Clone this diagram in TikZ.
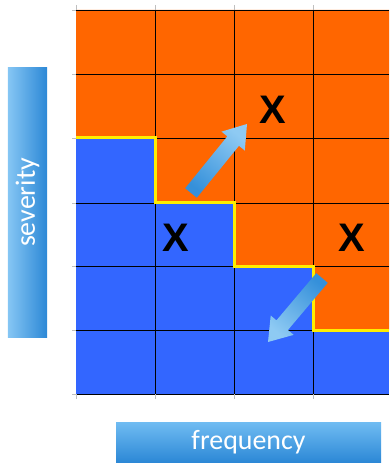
\documentclass[tikz,border=0pt]{standalone}
\usepackage{fontspec}
\setmainfont{Carlito}
\newfontfamily\xfont{Liberation Sans}
\usetikzlibrary{calc}
\definecolor{gridorange}{HTML}{FF6600}
\definecolor{gridblue}{HTML}{3366FF}
\definecolor{boundary}{HTML}{FFEE00}
\definecolor{lblight}{HTML}{70BCF2}
\definecolor{lbdark}{HTML}{2C88D6}
\definecolor{arrlight}{HTML}{8ECAF3}
\definecolor{arrdark}{HTML}{3590DA}
\tikzset{
  gridline/.style={black, line width=0.8bp},
  tickline/.style={gray!50, line width=0.6bp},
  stair/.style={boundary, line width=3bp, line join=miter},
  xmark/.style={font=\xfont\bfseries\fontsize{40}{40}\selectfont, text=black, inner sep=0pt},
  labelbox/.style={inner sep=0pt, text=white, font=\fontsize{28}{28}\selectfont},
  hshade/.style={top color=lblight, bottom color=lbdark},
  vshade/.style={left color=lblight!85!white, right color=lbdark},
}
\begin{document}
\begin{tikzpicture}[x=1bp,y=-1bp]
\useasboundingbox (0,0) rectangle (389,465);
% cells
\fill[gridblue] (76,10) rectangle (389,394);
\fill[gridorange] (76,10) -- (389,10) -- (389,330) -- (313,330) -- (313,266)
  -- (234,266) -- (234,203) -- (155,203) -- (155,138) -- (76,138) -- cycle;
% grid lines and ticks
\foreach \y in {10,74,138,203,266,330,394} {
  \draw[tickline] (72,\y) -- (76,\y);
  \draw[gridline] (76,\y) -- (389,\y);
}
\foreach \x in {76,155,234,313} {
  \draw[tickline] (\x,5) -- (\x,10);
  \draw[tickline] (\x,394) -- (\x,399);
}
\foreach \x in {155,234,313} {
  \draw[gridline] (\x,10) -- (\x,394);
}
% boundary
\draw[stair] (76,138) -- (155,138) -- (155,203) -- (234,203) -- (234,266)
  -- (313,266) -- (313,330) -- (389,330);
% marks
\node[xmark] (x1) at (273,110) {X};
\node[xmark] (x2) at (176,238) {X};
\node[xmark] (x3) at (352,238) {X};
% arrows
\coordinate (a1t) at (191,193);
\coordinate (a1h) at (247,124);
\coordinate (a1b) at ($(a1h)!22bp!(a1t)$);
\shade[top color=arrlight, bottom color=arrdark, shading angle=-39]
  ($(a1t)!7.5bp!90:(a1h)$) -- ($(a1b)!7.5bp!-90:(a1t)$) -- ($(a1b)!15bp!-90:(a1t)$)
  -- (a1h) -- ($(a1b)!15bp!90:(a1t)$) -- ($(a1b)!7.5bp!90:(a1t)$)
  -- ($(a1t)!7.5bp!-90:(a1h)$) -- cycle;
\coordinate (a2t) at (322,278);
\coordinate (a2h) at (268,342);
\coordinate (a2b) at ($(a2h)!22bp!(a2t)$);
\shade[top color=arrdark, bottom color=arrlight, shading angle=-40]
  ($(a2t)!7.5bp!90:(a2h)$) -- ($(a2b)!7.5bp!-90:(a2t)$) -- ($(a2b)!15bp!-90:(a2t)$)
  -- (a2h) -- ($(a2b)!15bp!90:(a2t)$) -- ($(a2b)!7.5bp!90:(a2t)$)
  -- ($(a2t)!7.5bp!-90:(a2h)$) -- cycle;
% axis labels
\node[labelbox, vshade, minimum width=269bp, minimum height=39bp, rotate=90] (sev) at (27.5,202.5) {severity};
\node[labelbox, hshade, minimum width=265bp, minimum height=40bp] (freq) at (248.5,442) {frequency};
\end{tikzpicture}
\end{document}
